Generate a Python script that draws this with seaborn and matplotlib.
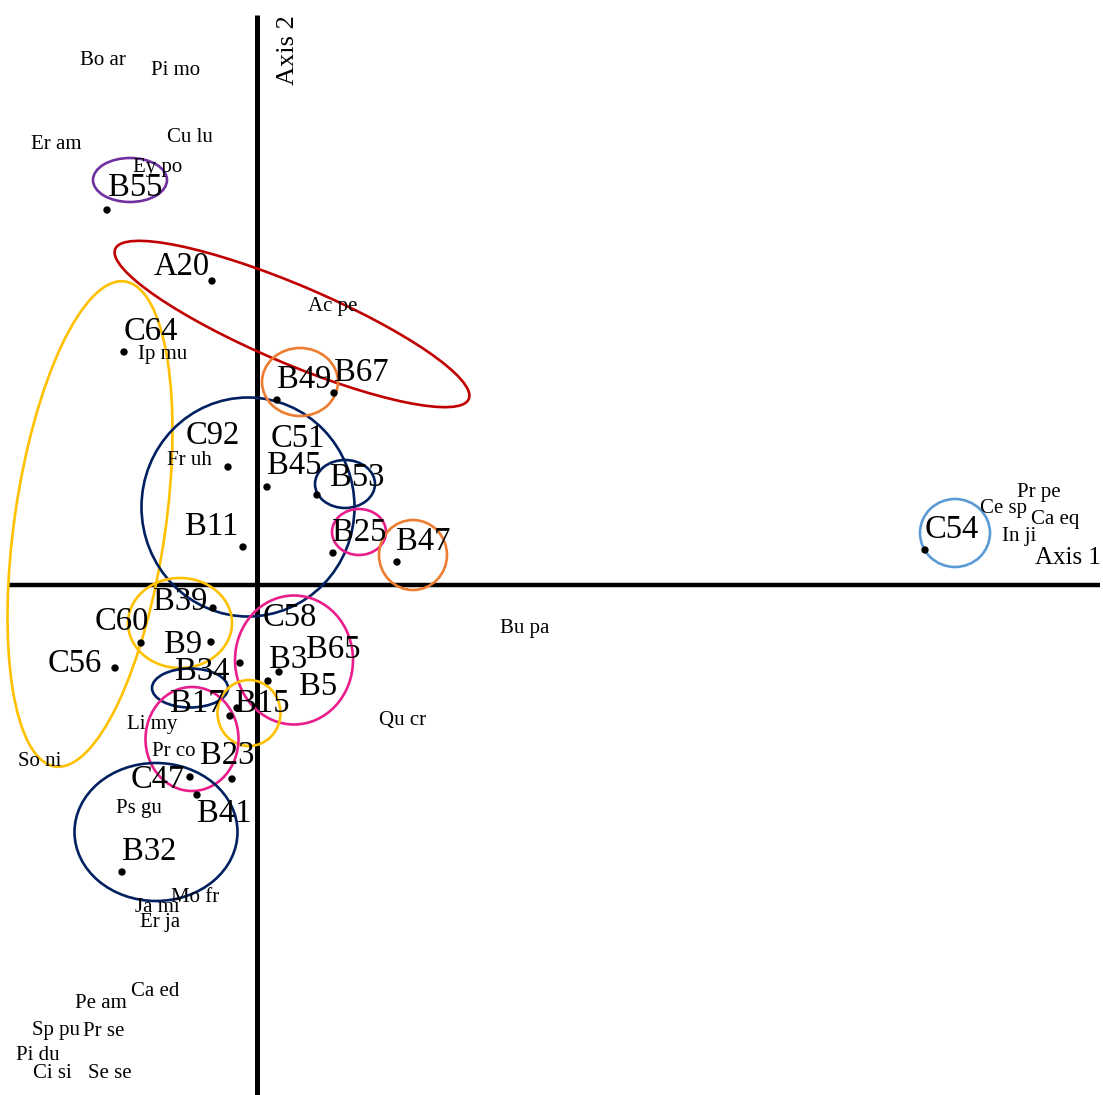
import matplotlib
matplotlib.use("Agg")
import matplotlib.pyplot as plt
from matplotlib.patches import Ellipse
import seaborn as sns
import pandas as pd

# ---- site scores (dots) ----
dot_names = ["B55", "A20", "C64", "B49", "B67", "C92", "B45", "B53", "B11", "B25",
             "B47", "C54", "B39", "C60", "B9", "C56", "B34", "B3", "B65", "B15",
             "B17", "B23", "C47", "B41", "B32"]
dot_x = [-1.50, -0.45, -1.33, 0.20, 0.77, -0.29, 0.10, 0.60, -0.14, 0.76,
         1.40, 6.68, -0.44, -1.16, -0.46, -1.42, -0.17, 0.11, 0.22, -0.20,
         -0.27, -0.25, -0.67, -0.60, -1.35]
dot_y = [3.75, 3.04, 2.33, 1.85, 1.92, 1.18, 0.98, 0.90, 0.38, 0.32,
         0.23, 0.35, -0.23, -0.58, -0.57, -0.83, -0.78, -0.96, -0.87, -1.23,
         -1.31, -1.94, -1.92, -2.10, -2.87]

# ---- site labels ----
site_labels = ["B55", "A20", "C64", "B49", "B67", "C92", "C51", "B45", "B53", "B11",
               "B25", "B47", "C54", "B39", "C60", "C58", "B9", "C56", "B34", "B3",
               "B65", "B5", "B17", "B15", "B23", "C47", "B41", "B32"]
site_lx = [-1.22, -0.75, -1.06, 0.47, 1.04, -0.44, 0.41, 0.37, 1.00, -0.45,
           1.02, 1.66, 6.95, -0.77, -1.35, 0.33, -0.74, -1.82, -0.55, 0.31,
           0.76, 0.61, -0.60, 0.05, -0.30, -0.99, -0.33, -1.08]
site_ly = [3.99, 3.20, 2.55, 2.07, 2.14, 1.51, 1.48, 1.21, 1.09, 0.60,
           0.54, 0.45, 0.57, -0.15, -0.35, -0.31, -0.58, -0.77, -0.85, -0.73,
           -0.63, -1.00, -1.17, -1.17, -1.69, -1.93, -2.27, -2.65]

# ---- species scores ----
species = ["Bo ar", "Pi mo", "Er am", "Cu lu", "Ey po", "Ac pe", "Ip mu", "Fr uh",
           "Pr pe", "Ce sp", "Ca eq", "In ji", "Bu pa", "Qu cr", "Li my", "So ni",
           "Pr co", "Ps gu", "Mo fr", "Ja mi", "Er ja", "Ca ed", "Pe am", "Sp pu",
           "Pr se", "Pi du", "Ci si", "Se se"]
sp_x = [-1.54, -0.81, -2.01, -0.67, -0.99, 0.76, -0.94, -0.68,
        7.82, 7.47, 7.98, 7.62, 2.68, 1.46, -1.05, -2.17,
        -0.83, -1.18, -0.62, -1.00, -0.97, -1.02, -1.56, -2.01,
        -1.53, -2.19, -2.05, -1.47]
sp_y = [5.26, 5.16, 4.42, 4.49, 4.19, 2.80, 2.32, 1.26,
        0.94, 0.78, 0.67, 0.50, -0.43, -1.35, -1.38, -1.75,
        -1.66, -2.22, -3.12, -3.21, -3.37, -4.06, -4.18, -4.45,
        -4.45, -4.69, -4.87, -4.87]

# ---- group ellipses: centre x, centre y, width, height, angle, colour ----
ell_cx = [-1.27, 0.35, -1.67, -0.09, 0.43, 0.88, 1.02, 1.56, 6.98, -0.77,
          0.37, -0.67, -0.08, -0.65, -1.01]
ell_cy = [4.05, 2.61, 0.61, 0.78, 2.03, 1.01, 0.53, 0.30, 0.52, -0.38,
          -0.75, -1.03, -1.28, -1.54, -2.47]
ell_w = [0.74, 3.84, 4.90, 2.13, 0.76, 0.60, 0.54, 0.68, 0.70, 1.04,
         1.18, 0.76, 0.63, 0.93, 1.63]
ell_h = [0.44, 0.78, 1.51, 2.19, 0.68, 0.48, 0.46, 0.70, 0.68, 0.90,
         1.29, 0.39, 0.66, 1.04, 1.38]
ell_ang = [0, -23, 81.8, 0, 0, 0, 0, 0, 0, 0, 0, 0, 0, 0, 0]
ell_col = ["#7030A0", "#C00000", "#FFC000", "#002060", "#ED7D31", "#002060",
           "#E91E8C", "#ED7D31", "#5B9BD5", "#FFC000", "#E91E8C", "#002060",
           "#FFC000", "#E91E8C", "#002060"]

sns.set_theme(style="white")
plt.rcParams["font.family"] = ["Liberation Serif", "DejaVu Serif"]
plt.rcParams["text.color"] = "black"

fig = plt.figure(figsize=(11.03, 10.95), dpi=100)
ax = fig.add_axes([0, 0, 1, 1])
ax.set_xlim(-2.57, 8.46)
ax.set_ylim(-5.10, 5.85)
ax.set_aspect("equal")
ax.axis("off")

# axes lines
ax.plot([-2.49, 8.43], [0, 0], color="black", lw=3.2, solid_capstyle="butt", zorder=1)
ax.plot([0, 0], [-5.10, 5.70], color="black", lw=3.6, solid_capstyle="butt", zorder=1)
ax.text(0.31, 5.35, "Axis 2", rotation=90, ha="center", va="center", fontsize=19, color="black")
ax.text(8.11, 0.27, "Axis 1", ha="center", va="center", fontsize=18, color="black")

# ellipses
for cx, cy, w, h, a, c in zip(ell_cx, ell_cy, ell_w, ell_h, ell_ang, ell_col):
    ax.add_patch(Ellipse((cx, cy), w, h, angle=a, fill=False, edgecolor=c, lw=1.9, zorder=3))

# dots
df = pd.DataFrame({"x": dot_x, "y": dot_y, "site": dot_names})
sns.scatterplot(data=df, x="x", y="y", ax=ax, color="black", s=28,
                edgecolor="none", zorder=4, legend=False)

# site labels
for name, x, y in zip(site_labels, site_lx, site_ly):
    ax.text(x, y - 0.02, name, ha="center", va="center", fontsize=23.5, color="black", zorder=5)

# species labels
for name, x, y in zip(species, sp_x, sp_y):
    ax.text(x, y - 0.01, name, ha="center", va="center", fontsize=15, color="black", zorder=5)

ax.set_xlabel("")
ax.set_ylabel("")
fig.savefig("out.png", dpi=100)
